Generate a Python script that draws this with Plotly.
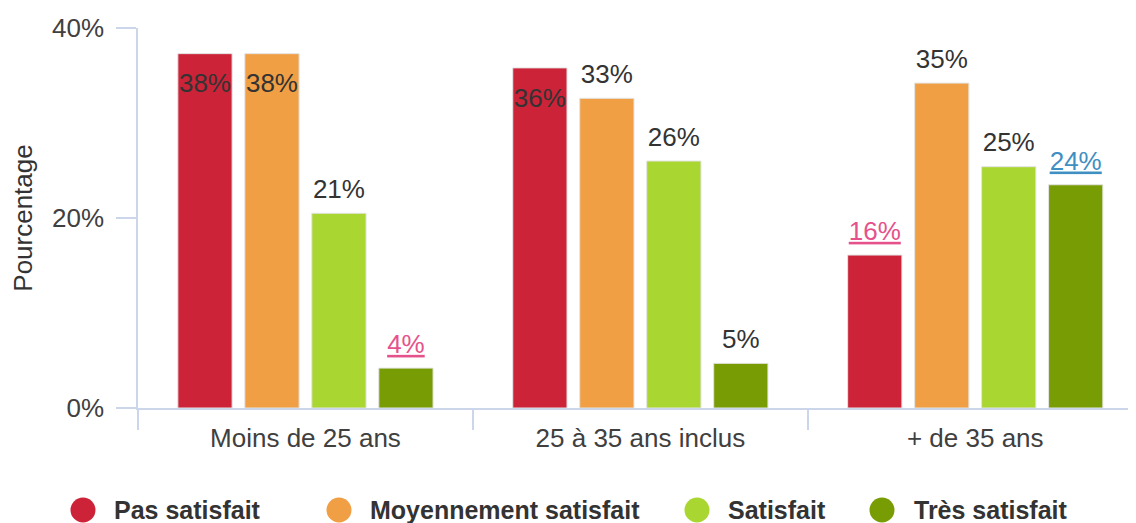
import plotly.graph_objects as go

# ---- data ----
categories = ["Moins de 25 ans", "25 à 35 ans inclus", "+ de 35 ans"]
series_names = ["Pas satisfait", "Moyennement satisfait", "Satisfait", "Très satisfait"]
pas_satisfait = [37.3, 35.8, 16.1]
moyennement_satisfait = [37.3, 32.6, 34.2]
satisfait = [20.5, 26.0, 25.4]
tres_satisfait = [4.2, 4.7, 23.5]
label_pas = ["38%", "36%", "16%"]
label_moy = ["38%", "33%", "35%"]
label_sat = ["21%", "26%", "25%"]
label_tres = ["4%", "5%", "24%"]
y_ticks = [0, 20, 40]

# ---- styling ----
colors = ["#cc2338", "#f09f45", "#a9d631", "#789c04"]
values = [pas_satisfait, moyennement_satisfait, satisfait, tres_satisfait]
labels = [label_pas, label_moy, label_sat, label_tres]
# label placement: "in" = inside top of the bar, "out" = above the bar
placements = [["in", "in", "out"], ["in", "out", "out"], ["out", "out", "out"], ["out", "out", "out"]]
PINK, BLUE, DARK = "#e5528b", "#3f8fc2", "#333333"
label_colors = [[DARK, DARK, PINK], [DARK, DARK, DARK], [DARK, DARK, DARK], [PINK, DARK, BLUE]]

FONT = "Liberation Sans, Arial, sans-serif"
AXIS_COL = "#ccd6eb"
OFF = 8  # page body margin offset
L, R, T = 138 - OFF, 0, 28 - OFF
W, H = 1136 - OFF, 523 - OFF
PW, PH = W - L - R, 380
B = H - T - PH

fig = go.Figure()
for name, col, vals in zip(series_names, colors, values):
    fig.add_trace(go.Bar(
        x=categories, y=vals, name=name,
        marker=dict(color=col, line=dict(color="#e4e4e4", width=1)),
        showlegend=False, hoverinfo="skip",
    ))

for name, vals, labs, pl, lc in zip(series_names, values, labels, placements, label_colors):
    txt = [f"<u>{t}</u>" if c != DARK else t for t, c in zip(labs, lc)]
    fig.add_trace(go.Scatter(
        x=categories, y=vals, mode="markers+text",
        text=txt,
        textposition=["bottom center" if p == "in" else "top center" for p in pl],
        textfont=dict(family=FONT, size=26, color=lc),
        marker=dict(size=[29 if p == "in" else 12.4 for p in pl], color="rgba(0,0,0,0)",
                    opacity=0, line=dict(width=0, color="rgba(0,0,0,0)")),
        showlegend=False, hoverinfo="skip", cliponaxis=False,
    ))

# custom legend (circles + bold labels), positions in screen pixels
def px_x(px):
    return (px - OFF - L) / PW

def px_y(py):
    return (T + PH - (py - OFF)) / PH

legend_circle_x = [83, 339, 697, 882]
legend_text_x = [112, 368, 726, 912]
legend_y = 510
shapes = []
annotations = []
for name, col, cx, tx in zip(series_names, colors, legend_circle_x, legend_text_x):
    shapes.append(dict(type="circle", xref="paper", yref="paper",
                       xsizemode="pixel", ysizemode="pixel",
                       xanchor=px_x(cx), yanchor=px_y(legend_y),
                       x0=-12.5, x1=12.5, y0=-12.5, y1=12.5,
                       fillcolor=col, line=dict(width=0)))
    annotations.append(dict(xref="paper", yref="paper", x=px_x(tx), y=px_y(legend_y),
                            xanchor="left", yanchor="middle", showarrow=False,
                            text=f"<b>{name}</b>",
                            font=dict(family=FONT, size=25, color="#333333")))

fig.update_layout(
    width=W, height=H,
    margin=dict(l=L, r=R, t=T, b=B, autoexpand=False),
    paper_bgcolor="white", plot_bgcolor="white",
    barmode="group", bargap=0.2, bargroupgap=0.19,
    scattermode="group", scattergap=0.2,
    font=dict(family=FONT, size=26, color="#333333"),
    shapes=shapes, annotations=annotations,
    showlegend=False,
    xaxis=dict(
        type="category", range=[-0.5, 2.48],
        showline=True, linecolor=AXIS_COL, linewidth=1.5,
        ticks="outside", tickson="boundaries", ticklen=20, tickcolor=AXIS_COL, tickwidth=1.5,
        tickfont=dict(family=FONT, size=26, color="#404040"),
        ticklabelstandoff=6,
        showgrid=False, zeroline=False, automargin=False,
    ),
    yaxis=dict(
        range=[0, 40], tickvals=y_ticks, ticktext=[f"{v}%" for v in y_ticks],
        showline=True, linecolor=AXIS_COL, linewidth=1.5,
        ticks="outside", ticklen=20, tickcolor=AXIS_COL, tickwidth=1.5,
        tickfont=dict(family=FONT, size=26, color="#404040"),
        ticklabelstandoff=7,
        showgrid=False, zeroline=False, automargin=False,
        title=dict(text="Pourcentage", font=dict(family=FONT, size=26, color="#333333"), standoff=12),
    ),
)

fig.write_html("out.html")
